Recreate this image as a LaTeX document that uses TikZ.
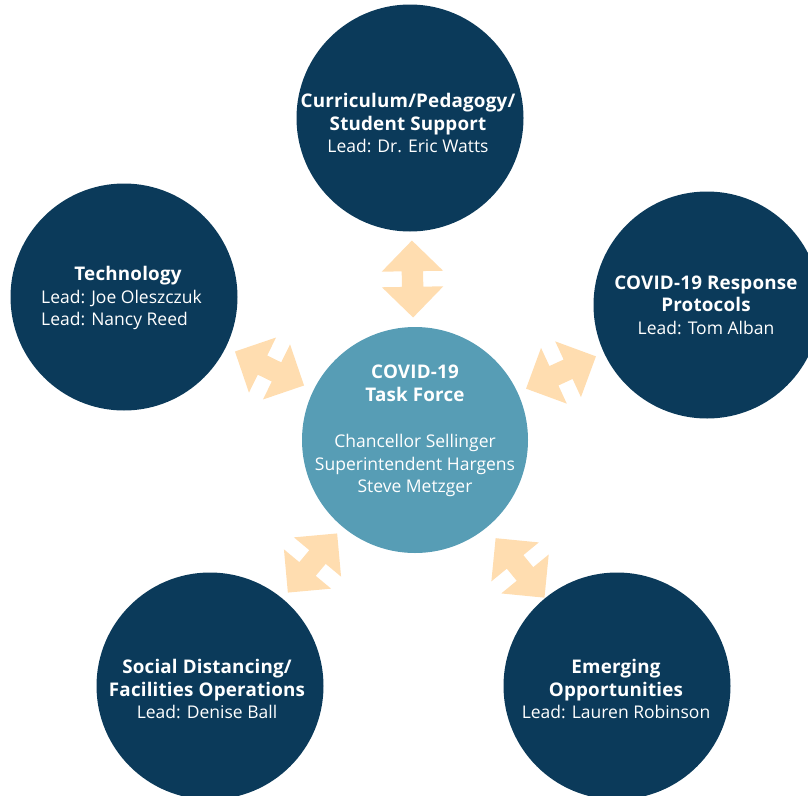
\documentclass[tikz,border=0pt]{standalone}
\usepackage{fontspec}
\setmainfont{Open Sans}[BoldFeatures={LetterSpace=1}]
\usetikzlibrary{shapes.arrows}
\definecolor{navy}{HTML}{0B3A5A}
\definecolor{teal}{HTML}{579DB5}
\definecolor{peach}{HTML}{FFDDB0}
\newcommand\ttl[1]{{\fontsize{18.8}{22.5}\selectfont\bfseries #1}}
\tikzset{
  sat/.style={circle, fill=navy, draw=none, minimum size=227pt, inner sep=0pt},
  hub/.style={circle, fill=teal, draw=none, minimum size=226pt, inner sep=0pt},
  txt/.style={text=white, align=center, inner sep=0pt, font=\fontsize{17.5}{22.5}\selectfont},
  dblarr/.style={double arrow, double arrow head extend=20pt, minimum height=77pt,
    inner xsep=0pt, inner ysep=10.5pt, fill=peach, draw=none}
}
\begin{document}
\begin{tikzpicture}[x=1pt,y=-1pt]
\useasboundingbox (0,0) rectangle (808,795);
\clip (0,0) rectangle (808,795);
\node[hub] (c) at (415,440) {};
\node[sat] (t) at (410,118) {};
\node[sat] (l) at (124,297) {};
\node[sat] (r) at (707,305) {};
\node[sat] (bl) at (210,686) {};
\node[sat] (br) at (617,686) {};

\path (c.center) -- (t.center) node[midway, sloped, dblarr] (a1) {};
\path (c.center) -- (l.center) node[midway, sloped, dblarr] (a2) {};
\path (c.center) -- (r.center) node[midway, sloped, dblarr] (a3) {};
\path (c.center) -- (bl.center) node[midway, sloped, dblarr] (a4) {};
\path (c.center) -- (br.center) node[pos=0.52, sloped, dblarr] (a5) {};

\node[txt] (ct) at (415,431) {\ttl{COVID-19}\\\ttl{Task Force}\\[24pt]Chancellor Sellinger\\Superintendent Hargens\\Steve Metzger};
\node[txt] (tt) at (408,123) {\ttl{Curriculum/Pedagogy/}\\\ttl{Student Support}\\Lead: Dr. Eric Watts};
\node[txt] (lt1) at (128,276) {\ttl{Technology}};
\node[txt, anchor=west, align=left] (lt2) at (41,310) {Lead: Joe Oleszczuk\\Lead: Nancy Reed};
\node[txt] (rt) at (706,305) {\ttl{COVID-19 Response}\\\ttl{Protocols}\\Lead: Tom Alban};
\node[txt] (blt) at (207,689) {\ttl{Social Distancing/}\\\ttl{Facilities Operations}\\Lead: Denise Ball};
\node[txt] (brt) at (616,689) {\ttl{Emerging}\\\ttl{Opportunities}\\Lead: Lauren Robinson};
\end{tikzpicture}
\end{document}
